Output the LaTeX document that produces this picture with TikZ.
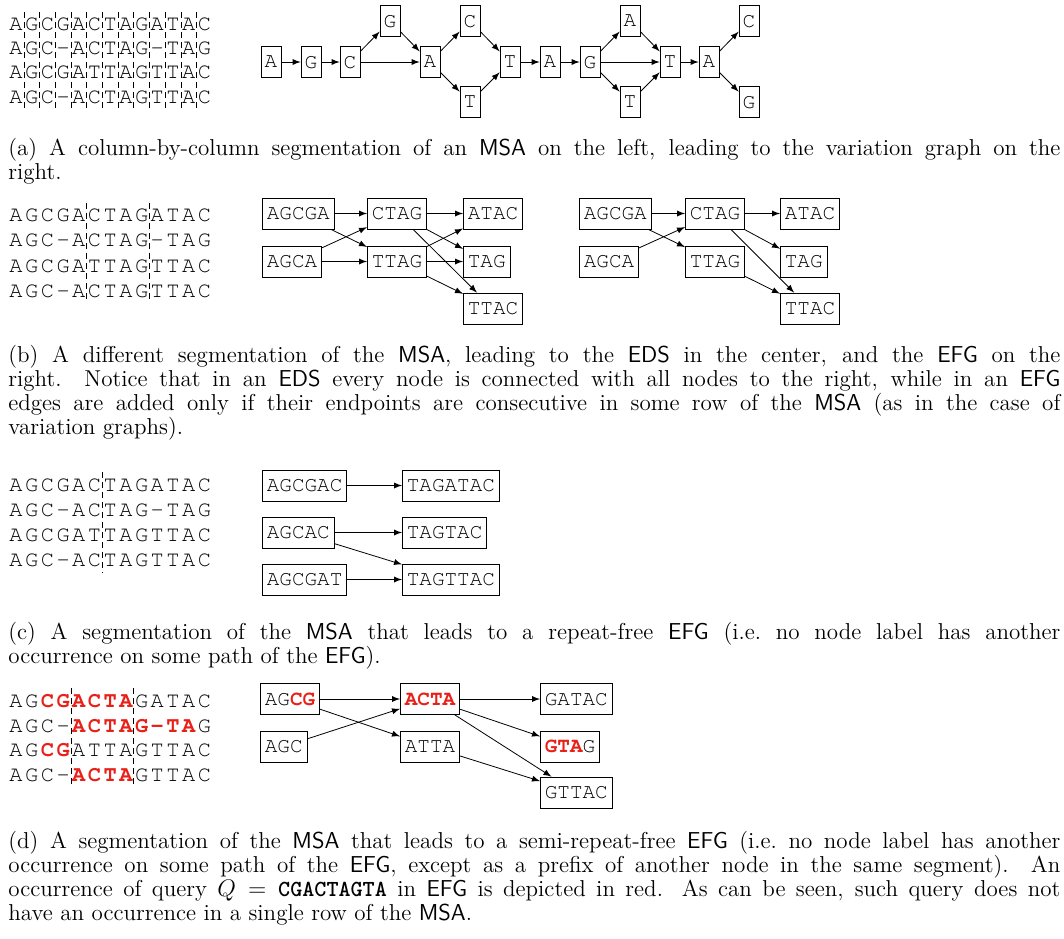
\documentclass[tikz,border=0pt]{standalone}
\usepackage{tikz}
\usetikzlibrary{positioning,arrows}
\definecolor{qred}{RGB}{232,32,24}
\newcommand{\cour}{\fontencoding{T1}\fontfamily{pcr}\selectfont}
\newcommand{\rd}[1]{{\bfseries\color{qred}#1}}
\newcommand{\MSA}{\textsf{MSA}}
\newcommand{\EDS}{\textsf{EDS}}
\newcommand{\EFG}{\textsf{EFG}}

\begin{document}
\begin{tikzpicture}[x=0.5pt,y=-0.5pt,>=latex,
  ch/.style={inner sep=0pt,anchor=base,font=\fontsize{11pt}{12pt}\cour},
  col/.style={draw,font=\fontsize{10.5pt}{12pt}\cour,inner xsep=1.85pt,minimum height=15.5pt},
  seg/.style={draw,font=\fontsize{10.5pt}{12pt}\cour,inner xsep=2.2pt,minimum height=15.5pt,anchor=west},
  cut/.style={densely dashed,line width=0.3pt},
  captext/.style={anchor=north west,inner sep=0pt,text width=526pt,align=justify,
    font=\fontsize{11.5pt}{12pt}\selectfont}]

  \useasboundingbox (0,0) rectangle (1064,938);

  % the MSA, drawn four times
  \foreach \blk/\y/\p in {a/30.7/24.1,b/221.4/25.3,c/491.6/25}
    \foreach \row [count=\r] in {{A,G,C,G,A,C,T,A,G,A,T,A,C},{A,G,C,-,A,C,T,A,G,-,T,A,G},
                                 {A,G,C,G,A,T,T,A,G,T,T,A,C},{A,G,C,-,A,C,T,A,G,T,T,A,C}}
      \foreach \c [count=\i] in \row
        \node[ch] (\blk\r-\i) at ({16+15.7*(\i-1)},{\y+\p*(\r-1)}) {\c};
  \foreach \row [count=\r] in {{A,G,\rd{C},\rd{G},\rd{A},\rd{C},\rd{T},\rd{A},G,A,T,A,C},
                               {A,G,C,-,\rd{A},\rd{C},\rd{T},\rd{A},\rd{G},\rd{-},\rd{T},\rd{A},G},
                               {A,G,\rd{C},\rd{G},A,T,T,A,G,T,T,A,C},
                               {A,G,C,-,\rd{A},\rd{C},\rd{T},\rd{A},G,T,T,A,C}}
    \foreach \c [count=\i] in \row
      \node[ch] (d\r-\i) at ({16+15.7*(\i-1)},{707.3+24.8*(\r-1)}) {\c};

  % segment borders
  \foreach \i in {1,...,12}
    \draw[cut] ({16+15.7*(\i-0.5)},12) -- ({16+15.7*(\i-0.5)},108);
  \foreach \i in {5,9}
    \draw[cut] ({16+15.7*(\i-0.5)},203) -- ({16+15.7*(\i-0.5)},302);
  \draw[cut] ({16+15.7*5.5},472) -- ({16+15.7*5.5},573);
  \foreach \i in {4,8}
    \draw[cut] ({16+15.7*(\i-0.5)},688) -- ({16+15.7*(\i-0.5)},787);

  % (a) variation graph
  \node[col] (v1) at (271,62) {A};
  \node[col] (v2) at (311,62) {G};
  \node[col] (v3) at (350,62) {C};
  \node[col] (v4) at (390,21) {G};
  \node[col] (v5) at (430,62) {A};
  \node[col] (v6) at (470,21) {C};
  \node[col] (v7) at (470,102) {T};
  \node[col] (v8) at (510,62) {T};
  \node[col] (v9) at (550,62) {A};
  \node[col] (v10) at (590,62) {G};
  \node[col] (v11) at (630,21) {A};
  \node[col] (v12) at (630,102) {T};
  \node[col] (v13) at (670,62) {T};
  \node[col] (v14) at (709,62) {A};
  \node[col] (v15) at (749,21) {C};
  \node[col] (v16) at (749,102) {G};
  \foreach \s/\t in {v1/v2,v2/v3,v3/v4,v3/v5,v4/v5,v5/v6,v5/v7,v6/v8,v7/v8,v8/v9,v9/v10,
                     v10/v11,v10/v12,v10/v13,v11/v13,v12/v13,v13/v14,v14/v15,v14/v16}
    \draw[->] (\s) -- (\t);

  % (b) EDS
  \node[seg] (e1) at (262,213.5) {AGCGA};
  \node[seg] (e2) at (262,261.5) {AGCA};
  \node[seg] (e3) at (367,213.5) {CTAG};
  \node[seg] (e4) at (367,261.5) {TTAG};
  \node[seg] (e5) at (463,213.5) {ATAC};
  \node[seg] (e6) at (463,261.5) {TAG};
  \node[seg] (e7) at (463,308.5) {TTAC};
  \foreach \s/\t in {e1/e3,e1/e4,e2/e3,e2/e4,e3/e5,e3/e6,e3/e7,e4/e5,e4/e6,e4/e7}
    \draw[->] (\s) -- (\t);

  % (b) EFG
  \node[seg] (f1) at (579,213.5) {AGCGA};
  \node[seg] (f2) at (579,261.5) {AGCA};
  \node[seg] (f3) at (685,213.5) {CTAG};
  \node[seg] (f4) at (685,261.5) {TTAG};
  \node[seg] (f5) at (780,213.5) {ATAC};
  \node[seg] (f6) at (780,261.5) {TAG};
  \node[seg] (f7) at (780,308.5) {TTAC};
  \foreach \s/\t in {f1/f3,f1/f4,f2/f3,f3/f5,f3/f6,f3/f7,f4/f7}
    \draw[->] (\s) -- (\t);

  % (c) repeat-free EFG
  \node[seg] (r1) at (262,485.5) {AGCGAC};
  \node[seg] (r2) at (262,532.5) {AGCAC};
  \node[seg] (r3) at (262,579.5) {AGCGAT};
  \node[seg] (r4) at (402,485.5) {TAGATAC};
  \node[seg] (r5) at (402,532.5) {TAGTAC};
  \node[seg] (r6) at (402,579.5) {TAGTTAC};
  \foreach \s/\t in {r1/r4,r2/r5,r2/r6,r3/r6}
    \draw[->] (\s) -- (\t);

  % (d) semi-repeat-free EFG
  \node[seg] (s1) at (260,699) {AG\rd{CG}};
  \node[seg] (s2) at (260,746.5) {AGC};
  \node[seg] (s3) at (400,699) {\rd{ACTA}};
  \node[seg] (s4) at (400,746.5) {ATTA};
  \node[seg] (s5) at (540,699) {GATAC};
  \node[seg] (s6) at (540,746.5) {\rd{GTA}G};
  \node[seg] (s7) at (540,792.5) {GTTAC};
  \foreach \s/\t in {s1/s3,s1/s4,s2/s3,s3/s5,s3/s6,s3/s7,s4/s7}
    \draw[->] (\s) -- (\t);

  % captions
  \node[captext] (capA) at (8,137.6) {(a) A column-by-column segmentation of an \MSA{} on the left,
    leading to the variation graph on the\linebreak right.};
  \node[captext] (capB) at (8,344.6) {(b) A different segmentation of the \MSA, leading to the \EDS{}
    in the center, and the \EFG{} on the\linebreak right. Notice that in an \EDS{} every node is
    connected with all nodes to the right, while in an \EFG\linebreak edges are added only if
    their endpoints are consecutive in some row of the \MSA{} (as in the case of\linebreak
    variation graphs).};
  \node[captext] (capC) at (8,622.1) {(c) A segmentation of the \MSA{} that leads to a repeat-free
    \EFG{} (i.e.\ no node label has another\linebreak occurrence on some path of the \EFG).};
  \node[captext] (capD) at (8,830.6) {(d) A segmentation of the \MSA{} that leads to a
    semi-repeat-free \EFG{} (i.e.\ no node label has another\linebreak occurrence on some path of
    the \EFG, except as a prefix of another node in the same segment). An\linebreak occurrence of
    query $Q=\texttt{\textbf{CGACTAGTA}}$ in \EFG{} is depicted in red. As can be seen, such query
    does not\linebreak have an occurrence in a single row of the \MSA.};
\end{tikzpicture}
\end{document}
